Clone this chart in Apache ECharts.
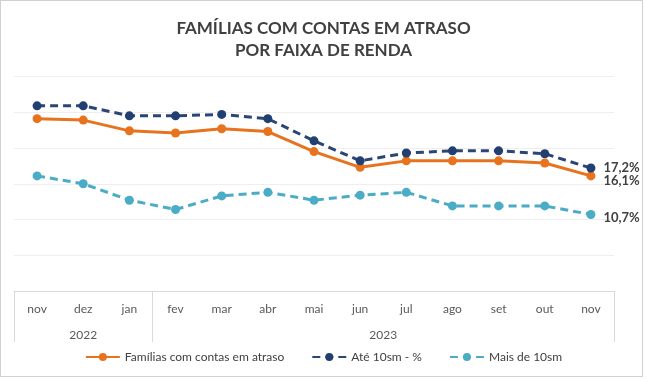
<!DOCTYPE html>
<html>
<head>
<meta charset="utf-8">
<script src="https://cdn.jsdelivr.net/npm/echarts@6/dist/echarts.min.js"></script>
<style>
html,body{margin:0;padding:0;background:#fff;}
#c{width:647px;height:379px;}
#frame{position:absolute;left:0;top:0;width:641px;height:375px;border:1px solid #d0d0d0;pointer-events:none;}
</style>
</head>
<body>
<div id="c"></div>
<div id="frame"></div>
<script>
const titleText = 'FAMÍLIAS COM CONTAS EM ATRASO\nPOR FAIXA DE RENDA';
const months = ['nov','dez','jan','fev','mar','abr','mai','jun','jul','ago','set','out','nov'];
const yearLabels = ['2022','2023'];
const yearSpans = [3, 10];
const seriesNames = ['Famílias com contas em atraso','Até 10sm - %','Mais de 10sm'];
const familias = [24.1, 23.9, 22.4, 22.1, 22.7, 22.3, 19.5, 17.3, 18.2, 18.2, 18.2, 17.9, 16.1];
const ate10sm = [25.9, 25.9, 24.5, 24.5, 24.7, 24.1, 21.0, 18.2, 19.3, 19.6, 19.6, 19.2, 17.2];
const mais10sm = [16.1, 15.0, 12.7, 11.4, 13.3, 13.8, 12.7, 13.4, 13.8, 11.9, 11.9, 11.9, 10.7];

const FONT = 'Lato';
const fmt = v => v.toFixed(1).replace('.', ',') + '%';

function withLastLabel(arr, offsetY) {
  return arr.map((v, i) => i === arr.length - 1 ? {
    value: v,
    label: {show: true, position: 'right', distance: 8, offset: [0, offsetY],
      formatter: p => fmt(p.value), color: '#404040', fontWeight: 'bold', fontSize: 13, fontFamily: FONT}
  } : v);
}

const bounds = [0]; yearSpans.forEach(s => bounds.push(bounds[bounds.length-1] + s));
const centers = yearSpans.map((s, i) => bounds[i] + s / 2);

const chart = echarts.init(document.getElementById('c'), null, {renderer: 'canvas'});
chart.setOption({
  animation: false,
  backgroundColor: '#fff',
  title: {
    text: titleText, left: 'center', top: 13,
    textStyle: {fontFamily: FONT, fontWeight: 'bold', fontSize: 17, color: '#404040', lineHeight: 22}
  },
  legend: {
    bottom: 11, left: 'center', itemGap: 27, itemWidth: 34, itemHeight: 10,
    textStyle: {fontFamily: FONT, fontSize: 12, color: '#404040'},
    data: seriesNames
  },
  grid: {left: 14, right: 33, top: 76.5, bottom: 88, containLabel: false},
  xAxis: [{
    type: 'category', data: months, boundaryGap: true,
    axisLine: {show: true, lineStyle: {color: '#d9d9d9', width: 1}},
    axisTick: {show: false},
    axisLabel: {color: '#595959', fontFamily: FONT, fontSize: 12, margin: 12, interval: 0}
  }, {
    type: 'value', min: 0, max: bounds[bounds.length-1], position: 'bottom',
    axisLine: {show: false},
    splitLine: {show: false},
    axisTick: {show: true, customValues: bounds, length: 51, lineStyle: {color: '#d9d9d9', width: 1}},
    axisLabel: {show: true, customValues: centers, margin: 38, color: '#595959', fontFamily: FONT, fontSize: 12,
      formatter: v => { const i = centers.indexOf(v); return i >= 0 ? yearLabels[i] : ''; }}
  }],
  yAxis: {
    type: 'value', min: 0, max: 30, interval: 5,
    axisLabel: {show: false}, axisLine: {show: false}, axisTick: {show: false},
    splitLine: {lineStyle: {color: '#eeeeee', width: 1}}
  },
  series: [{
    name: seriesNames[0], type: 'line', data: withLastLabel(familias, 5),
    xAxisIndex: 0,
    symbol: 'circle', symbolSize: 9, color: '#E8731E',
    lineStyle: {width: 3, color: '#E8731E'}, itemStyle: {color: '#E8731E'}, z: 3
  }, {
    name: seriesNames[1], type: 'line', data: withLastLabel(ate10sm, 0),
    xAxisIndex: 0,
    symbol: 'circle', symbolSize: 9, color: '#223F72',
    lineStyle: {width: 3, type: [8, 5], color: '#2B4675'}, itemStyle: {color: '#223F72'}, z: 4
  }, {
    name: seriesNames[2], type: 'line', data: withLastLabel(mais10sm, 3),
    xAxisIndex: 0,
    symbol: 'circle', symbolSize: 9, color: '#4BACC6',
    lineStyle: {width: 3, type: [8, 5], color: '#4BACC6'}, itemStyle: {color: '#4BACC6'}, z: 2
  }]
});
</script>
</body>
</html>
